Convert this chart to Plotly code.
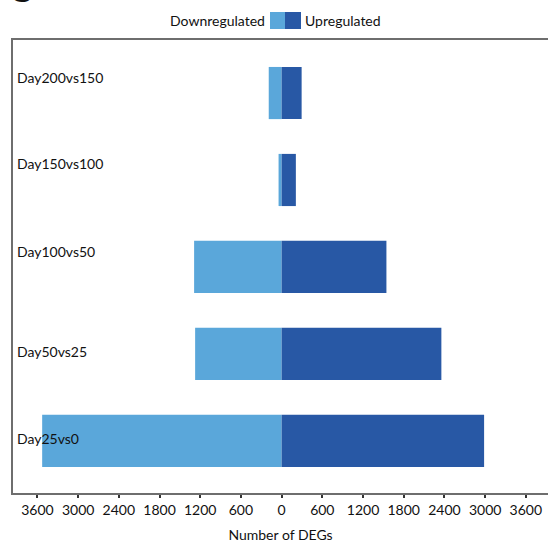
import plotly.graph_objects as go

# ---- data ----
comparisons = ["Day25vs0", "Day50vs25", "Day100vs50", "Day150vs100", "Day200vs150"]
downregulated = [3530, 1275, 1290, 45, 190]
upregulated = [2985, 2355, 1545, 210, 295]
tick_values = [-3600, -3000, -2400, -1800, -1200, -600, 0, 600, 1200, 1800, 2400, 3000, 3600]
tick_labels = ["3600", "3000", "2400", "1800", "1200", "600", "0", "600", "1200", "1800", "2400", "3000", "3600"]
label_shift_px = [2, 2, 15, 16, 16]

LIGHT = "#5aa7da"
DARK = "#2858a5"
FONT = "Lato"
FS = 14

W, H = 548, 543
ml, mr, mt, mb = 13, 0, 40, 50
pw, ph = W - ml - mr, H - mt - mb


def px_to_paper_x(px):
    return (px - ml) / pw


def py_to_paper_y(py):
    return (H - mb - py) / ph


fig = go.Figure()
fig.add_trace(go.Bar(
    y=comparisons, x=[-v for v in downregulated], orientation="h",
    marker=dict(color=LIGHT, line=dict(width=0)), width=0.6, name="Downregulated",
    showlegend=False,
))
fig.add_trace(go.Bar(
    y=comparisons, x=upregulated, orientation="h",
    marker=dict(color=DARK, line=dict(width=0)), width=0.6, name="Upregulated",
    showlegend=False,
))

# category labels inside plot
for c, s in zip(comparisons, label_shift_px):
    fig.add_annotation(x=0, xref="paper", y=c, yref="y", text=c, showarrow=False,
                       xanchor="left", xshift=2, yshift=s,
                       font=dict(family=FONT, size=FS, color="#111"))

# custom legend
fig.add_shape(type="rect", xref="paper", yref="paper",
              x0=px_to_paper_x(270), x1=px_to_paper_x(285),
              y0=py_to_paper_y(29), y1=py_to_paper_y(12),
              fillcolor=LIGHT, line=dict(width=0))
fig.add_shape(type="rect", xref="paper", yref="paper",
              x0=px_to_paper_x(285), x1=px_to_paper_x(301),
              y0=py_to_paper_y(29), y1=py_to_paper_y(12),
              fillcolor=DARK, line=dict(width=0))
fig.add_annotation(xref="paper", yref="paper", x=px_to_paper_x(267), y=py_to_paper_y(20.5),
                   text="Downregulated", showarrow=False, xanchor="right", yanchor="middle",
                   font=dict(family=FONT, size=FS, color="#111"))
fig.add_annotation(xref="paper", yref="paper", x=px_to_paper_x(303), y=py_to_paper_y(20.5),
                   text="Upregulated", showarrow=False, xanchor="left", yanchor="middle",
                   font=dict(family=FONT, size=FS, color="#111"))
# panel letter, partly cut off at the top (as in the source figure)
fig.add_annotation(xref="paper", yref="paper", x=px_to_paper_x(21), y=py_to_paper_y(-10),
                   text="<b>C</b>", showarrow=False, xanchor="center", yanchor="middle",
                   font=dict(family="Liberation Sans", size=34, color="#111"))

fig.update_layout(
    width=W, height=H,
    margin=dict(l=ml, r=mr, t=mt, b=mb, pad=0),
    barmode="relative",
    plot_bgcolor="white", paper_bgcolor="white",
    font=dict(family=FONT, size=FS, color="#111"),
)
fig.update_xaxes(
    range=[-3960, 3927], tickvals=tick_values, ticktext=tick_labels,
    showgrid=False, zeroline=False,
    showline=True, linecolor="#6e6e6e", linewidth=1.5, mirror=True,
    ticks="outside", ticklen=3, tickwidth=2, tickcolor="#333",
    tickfont=dict(family=FONT, size=FS, color="#111"),
    title=dict(text="Number of DEGs", font=dict(family=FONT, size=FS, color="#111"), standoff=16),
)
fig.update_yaxes(
    range=[-0.6, 4.61], showticklabels=False, showgrid=False, zeroline=False,
    showline=True, linecolor="#6e6e6e", linewidth=1.5, ticks="",
)

fig.write_html("out.html",
               config={"displayModeBar": False},
               post_script="document.body.style.margin='0px';document.body.style.overflow='hidden';")
